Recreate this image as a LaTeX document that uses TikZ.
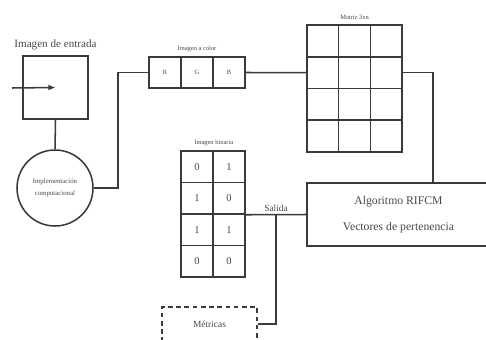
\documentclass[tikz,border=0pt]{standalone}
\usepackage{fontspec}
\setmainfont{Liberation Serif}
\usepackage{xcolor}
\usetikzlibrary{arrows.meta, positioning}
\definecolor{ln}{HTML}{3A3A3A}
\definecolor{txt}{HTML}{484848}

\begin{document}
\begin{tikzpicture}[
    x=0.03cm, y=-0.03cm,
    box/.style={
        rectangle, draw=ln, line width=1.3pt, inner sep=1pt,
        text=txt, align=center
    },
    cell/.style={box, minimum width=0.95cm, minimum height=0.95cm, font=\fontsize{9}{10}\selectfont},
    lbl/.style={font=\fontsize{5.5}{6}\selectfont, text=txt, inner sep=1pt},
    wire/.style={draw=ln, line width=1.3pt},
    arr/.style={wire, -{Latex[length=6pt, width=5pt]}}
]
    \useasboundingbox (0,0) rectangle (486,339);

    %% --- Input ---
    \node[box, minimum width=1.95cm, minimum height=1.89cm] (inbox) at (55.5,87.5) {};
    \node[font=\fontsize{9.5}{11}\selectfont, text=txt, inner sep=1pt, above=3pt of inbox] (intitle) {Imagen de entrada};
    \coordinate (src) at (12,88);
    \node[box, circle, minimum size=2.28cm, font=\fontsize{5.8}{10}\selectfont] (impl) at (55,188)
        {Implementación\\computacional};

    %% --- RGB image ---
    \foreach \c/\l in {1/R,2/G,3/B}
        \node[cell, minimum width=0.96cm, minimum height=0.93cm, font=\fontsize{5.5}{6}\selectfont]
            (rgb-\c) at ({149+32*(\c-0.5)},72.5) {\l};
    \node[lbl, above=2.5pt of rgb-2] (rgbtitle) {Imagen a color};

    %% --- Matrix 3xn ---
    \foreach \r in {1,...,4}
        \foreach \c in {1,2,3}
            \node[cell] (m-\r-\c) at ({307+31.67*(\c-0.5)},{25+31.75*(\r-0.5)}) {};
    \node[lbl, above=2.5pt of m-1-2] (mtitle) {Matriz 3xn};

    %% --- Algorithm ---
    \node[box, minimum width=5.49cm, minimum height=1.89cm, font=\fontsize{10}{22}\selectfont] (algo) at (398.5,214.5)
        {Algoritmo RIFCM\\Vectores de pertenencia};
    \coordinate (drop) at (433,70);

    %% --- Binary image ---
    \foreach \r/\a/\b in {1/0/1, 2/1/0, 3/1/1, 4/0/0} {
        \node[cell, minimum width=0.96cm, minimum height=0.945cm] (b-\r-1) at (197,{151+31.5*(\r-0.5)}) {\a};
        \node[cell, minimum width=0.96cm, minimum height=0.945cm] (b-\r-2) at (229,{151+31.5*(\r-0.5)}) {\b};
    }
    \node[lbl, above=2.5pt of b-1-1.north east] (btitle) {Imagen binaria};

    %% --- Output / metrics ---
    \coordinate (tap) at (276,214.5);
    \node[font=\fontsize{8}{9}\selectfont, text=txt, inner sep=1pt, above=1.5pt of tap] (salida) {Salida};
    \node[box, dashed, dash pattern=on 4pt off 3pt, minimum width=2.85cm, minimum height=1.02cm,
          font=\fontsize{8}{9}\selectfont] (metr) at (209.5,324) {Métricas};

    %% --- Connectors ---
    \draw[arr] (src) -- (inbox.center);
    \draw[wire] (inbox.south) -- (impl.north);
    \draw[wire] (impl.east) -| (118,72.5) -- (rgb-1.west);
    \draw[wire] (rgb-3.east) -- (m-2-1.west);
    \draw[wire] (m-2-3.east) -| (algo.north -| drop);
    \draw[wire] (b-2-2.south east) -- (algo.west);
    \draw[wire] (tap) |- (metr.east);
\end{tikzpicture}
\end{document}
